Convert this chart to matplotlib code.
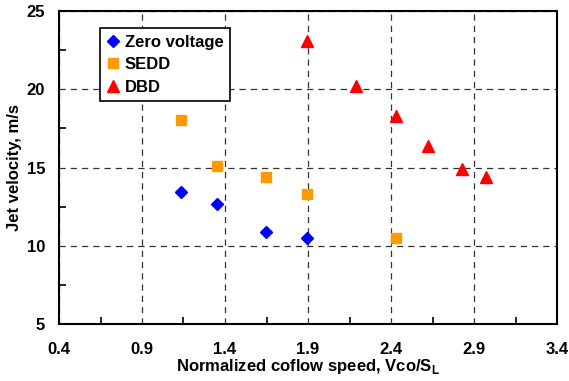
import matplotlib
matplotlib.use('Agg')
import matplotlib.pyplot as plt

plt.rcParams['font.family'] = ['Liberation Sans', 'DejaVu Sans']
plt.rcParams['font.weight'] = 'bold'
plt.rcParams['mathtext.fontset'] = 'custom'
plt.rcParams['mathtext.bf'] = 'Liberation Sans:bold'
plt.rcParams['mathtext.rm'] = 'Liberation Sans:bold'

# データ
zero_x = [1.135, 1.352, 1.647, 1.894]
zero_y = [13.43, 12.67, 10.88, 10.5]
sedd_x = [1.135, 1.352, 1.647, 1.894, 2.43]
sedd_y = [18.04, 15.1, 14.4, 13.3, 10.5]
dbd_x = [1.894, 2.19, 2.43, 2.62, 2.83, 2.97]
dbd_y = [23.08, 20.2, 18.3, 16.37, 14.9, 14.4]

xticks = [0.4, 0.9, 1.4, 1.9, 2.4, 2.9, 3.4]
xminor = [0.65, 1.15, 1.65, 2.15, 2.65, 3.15]
yticks = [5, 10, 15, 20, 25]
yminor = [7.5, 12.5, 17.5, 22.5]

fig = plt.figure(figsize=(5.69, 3.81), dpi=100)
ax = fig.add_axes([59 / 569, 1 - 324 / 381, 498 / 569, 313 / 381])

ax.plot(zero_x, zero_y, 'D', color='#0000FF', markersize=6.5, label='Zero voltage', zorder=3)
ax.plot(sedd_x, sedd_y, 's', color='#FF9900', markersize=7.5, label='SEDD', zorder=3)
ax.plot(dbd_x, dbd_y, '^', color='#FF0000', markersize=8, label='DBD', zorder=3)

ax.set_xlim(0.4, 3.4)
ax.set_ylim(5, 25)
ax.set_xticks(xticks)
ax.set_xticklabels([f'{v:.1f}' for v in xticks])
ax.set_xticks(xminor, minor=True)
ax.set_yticks(yticks)
ax.set_yticks(yminor, minor=True)
ax.tick_params(which='both', direction='in', labelsize=12, width=1.2)
ax.tick_params(which='major', length=0)
ax.tick_params(axis='x', which='major', pad=13)
ax.tick_params(axis='y', which='major', pad=10)
ax.tick_params(which='minor', length=5)

ax.grid(True, which='major', color='#333333', linestyle=(0, (5, 4)), linewidth=0.9)
for s in ax.spines.values():
    s.set_linewidth(1.5)

ax.set_xlabel(r'Normalized coflow speed, Vco/S$_\mathbf{L}$', fontsize=12, fontweight='bold', labelpad=0)
ax.set_ylabel('Jet velocity, m/s', fontsize=12, fontweight='bold', labelpad=3)

leg = ax.legend(loc='upper left', bbox_to_anchor=(0.082, 0.946), fancybox=False,
                edgecolor='black', framealpha=1, handlelength=0.8, handletextpad=0.3,
                borderpad=0.4, labelspacing=0.45, prop={'weight': 'bold', 'size': 12},
                borderaxespad=0)
leg.get_frame().set_linewidth(1.2)

fig.savefig('out.png', dpi=100)
